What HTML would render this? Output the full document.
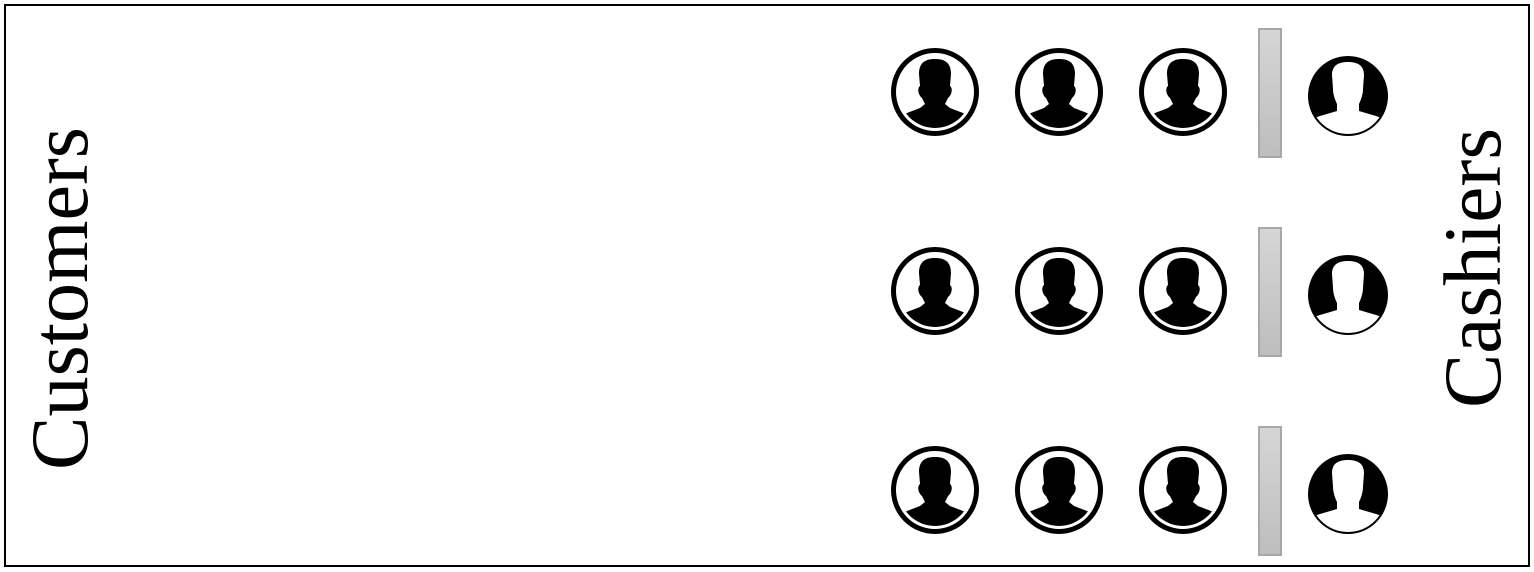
<!DOCTYPE html>
<html><head><meta charset="utf-8"><style>
html,body{margin:0;padding:0;background:#fff;}
svg{display:block;}
.lbl{font-family:"Liberation Serif",serif;}
</style></head><body>
<svg id="chart" width="1534" height="572" viewBox="0 0 1534 572" xmlns="http://www.w3.org/2000/svg">
<defs>
<linearGradient id="barGrad" x1="0" y1="0" x2="0" y2="1">
<stop offset="0" stop-color="#d6d6d6"/><stop offset="1" stop-color="#bdbdbd"/>
</linearGradient>
<clipPath id="custClip"><circle cx="0" cy="0" r="36"/></clipPath>
<clipPath id="cashClip"><circle cx="0" cy="0" r="38"/></clipPath>
</defs>
<rect x="5" y="5" width="1524" height="561" fill="#fff" stroke="#000" stroke-width="2"/>
<text class="lbl" transform="translate(87,470) rotate(-90)" font-size="82" textLength="343" lengthAdjust="spacingAndGlyphs" fill="#000">Customers</text>
<text class="lbl" transform="translate(1500,408) rotate(-90)" font-size="82" textLength="280" lengthAdjust="spacingAndGlyphs" fill="#000">Cashiers</text>
<g id="layer"></g>
</svg>
<script>
const lanes = ["lane-1", "lane-2", "lane-3"];
const customersPerLane = [3, 3, 3];
const cashiersPerLane = [1, 1, 1];

const NS = "http://www.w3.org/2000/svg";
const layer = document.getElementById("layer");
function laneY(i){ return 92 + i * 199; }
function custX(j){ return 935 + j * 124; }
function mk(tag, attrs, parent){
  const e = document.createElementNS(NS, tag);
  for (const k in attrs) e.setAttribute(k, attrs[k]);
  parent.appendChild(e);
  return e;
}
function person(g, fillColor, clip){
  const p = mk("g", {"clip-path": clip}, g);
  mk("path", {d: "M-16,-18 C-16,-30 -9,-33 0,-33 C9,-33 16,-30 16,-18 L15,-6 C18,-4 17,3 13,6 L10,12 L15,16 L28,21 L40,26 L40,60 L-40,60 L-40,26 L-28,21 L-15,16 L-10,12 L-13,6 C-17,3 -18,-4 -15,-6 Z", fill: fillColor}, p);
}
lanes.forEach(function(name, i){
  const y = laneY(i);
  const lane = mk("g", {}, layer);
  
  
  for (let j = 0; j < customersPerLane[i]; j++){
    const g = mk("g", {transform: "translate(" + custX(j) + "," + y + ")"}, lane);
    
    
    mk("circle", {cx: 0, cy: 0, r: 41.5, fill: "#fff", stroke: "#000", "stroke-width": 5}, g);
    person(g, "#000", "url(#custClip)");
  }
  const bar = mk("rect", {x: 1259, y: y - 63, width: 22, height: 128, fill: "url(#barGrad)", stroke: "#a8a8a8", "stroke-width": 2}, lane);
  
  
  for (let k = 0; k < cashiersPerLane[i]; k++){
    const g = mk("g", {transform: "translate(" + (1348 + k * 100) + "," + (y + 4) + ")"}, lane);
    
    
    mk("circle", {cx: 0, cy: 0, r: 40, fill: "#000"}, g);
    const p = mk("g", {"clip-path": "url(#cashClip)"}, g);
    mk("path", {d: "M-16,-21 C-16,-31 -9,-34 0,-34 C9,-34 16,-31 16,-21 L15,-7 C15,-2 13,4 11,8 L11,15 L28,20 L40,24 L40,60 L-40,60 L-40,24 L-28,20 L-11,15 L-11,8 C-13,4 -15,-2 -15,-7 Z", fill: "#fff"}, p);
  }
});
</script>
</body></html>
